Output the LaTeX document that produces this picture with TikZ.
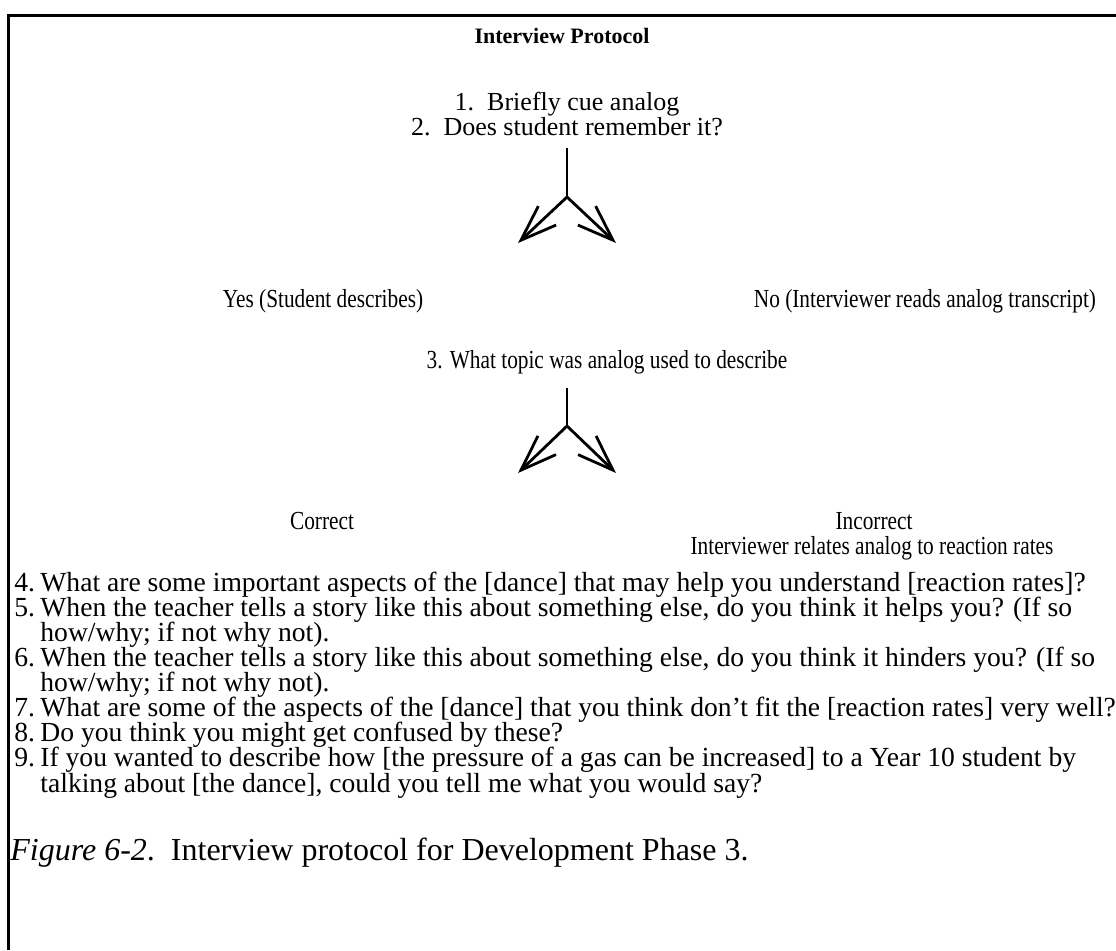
\documentclass[tikz,border=0pt]{standalone}
\usepackage{fontspec}
\setmainfont{Liberation Serif}
\newfontfamily\narrowserif[FakeStretch=0.82]{Liberation Serif}
\usetikzlibrary{arrows.meta}

\tikzset{
  qtext/.style={anchor=base, font=\fontsize{13}{13}\selectfont, inner sep=0pt},
  branch/.style={anchor=base, font=\narrowserif\fontsize{13}{13}\selectfont, inner sep=0pt},
  itemnum/.style={anchor=base west, font=\fontsize{13.8}{13.8}\selectfont, inner sep=0pt},
  itemtext/.style={anchor=base west, font=\fontsize{13.8}{13.8}\selectfont, inner sep=0pt},
  fork/.style={line width=1.4pt},
  forkarrow/.style={line width=1.4pt, -{Straight Barb[length=18pt, width=13pt, line width=1.4pt]}}
}

\begin{document}
\begin{tikzpicture}[x=0.5pt, y=-0.5pt]
      \useasboundingbox (0,0) rectangle (1116,950);
      % frame: top rule and left rule only
      \draw[line width=1.5pt] (1116,15) -- (8,15) -- (8,950);
      \node[qtext, font=\bfseries\fontsize{11}{11}\selectfont] (title) at (562,43) {Interview Protocol};

      \node[qtext] (cue) at (567,110) {1.\ \ Briefly cue analog};
      \node[qtext] (remember) at (567,135) {2.\ \ Does student remember it?};
      \coordinate (fork1) at (567,197);
      \coordinate (yestip) at (518,243);
      \coordinate (notip) at (616,243);
      \draw[fork] (567,148) -- (fork1);
      \draw[forkarrow] (fork1) -- (yestip);
      \draw[forkarrow] (fork1) -- (notip);

      \node[branch] (yes) at (323,307) {Yes (Student describes)};
      \node[branch] (no) at (925,307) {No (Interviewer reads analog transcript)};

      \node[branch] (topic) at (607,368) {3. What topic was analog used to describe};
      \coordinate (fork2) at (567,426);
      \coordinate (correcttip) at (518,473);
      \coordinate (incorrecttip) at (616,473);
      \draw[fork] (567,388) -- (fork2);
      \draw[forkarrow] (fork2) -- (correcttip);
      \draw[forkarrow] (fork2) -- (incorrecttip);

      \node[branch] (correct) at (322,529) {Correct};
      \node[branch] (incorrect) at (874,529) {Incorrect};
      \node[branch] (relates) at (872,554) {Interviewer relates analog to reaction rates};

      % follow-up questions
      \node[itemnum] (n4) at (14,591) {4.};
      \node[itemtext] (q4) at (40,591) {What are some important aspects of the [dance] that may help you understand [reaction rates]?};
      \node[itemnum] (n5) at (14,616) {5.};
      \node[itemtext] (q5) at (40,616) {When the teacher tells a story like this about something else, do you think it helps you? (If so};
      \node[itemtext] (q5b) at (40,641) {how/why; if not why not).};
      \node[itemnum] (n6) at (14,666) {6.};
      \node[itemtext] (q6) at (40,666) {When the teacher tells a story like this about something else, do you think it hinders you? (If so};
      \node[itemtext] (q6b) at (40,691) {how/why; if not why not).};
      \node[itemnum] (n7) at (14,716) {7.};
      \node[itemtext] (q7) at (40,716) {What are some of the aspects of the [dance] that you think don't fit the [reaction rates] very well?};
      \node[itemnum] (n8) at (14,741) {8.};
      \node[itemtext] (q8) at (40,741) {Do you think you might get confused by these?};
      \node[itemnum] (n9) at (14,766) {9.};
      \node[itemtext] (q9) at (40,766) {If you wanted to describe how [the pressure of a gas can be increased] to a Year 10 student by};
      \node[itemtext] (q9b) at (40,792) {talking about [the dance], could you tell me what you would say?};

      \node[anchor=base west, inner sep=0pt, font=\fontsize{16}{16}\selectfont] (caption) at (10,860) {\textit{Figure 6-2}.\ \ Interview protocol for Development Phase 3.};
    \end{tikzpicture}
\end{document}
